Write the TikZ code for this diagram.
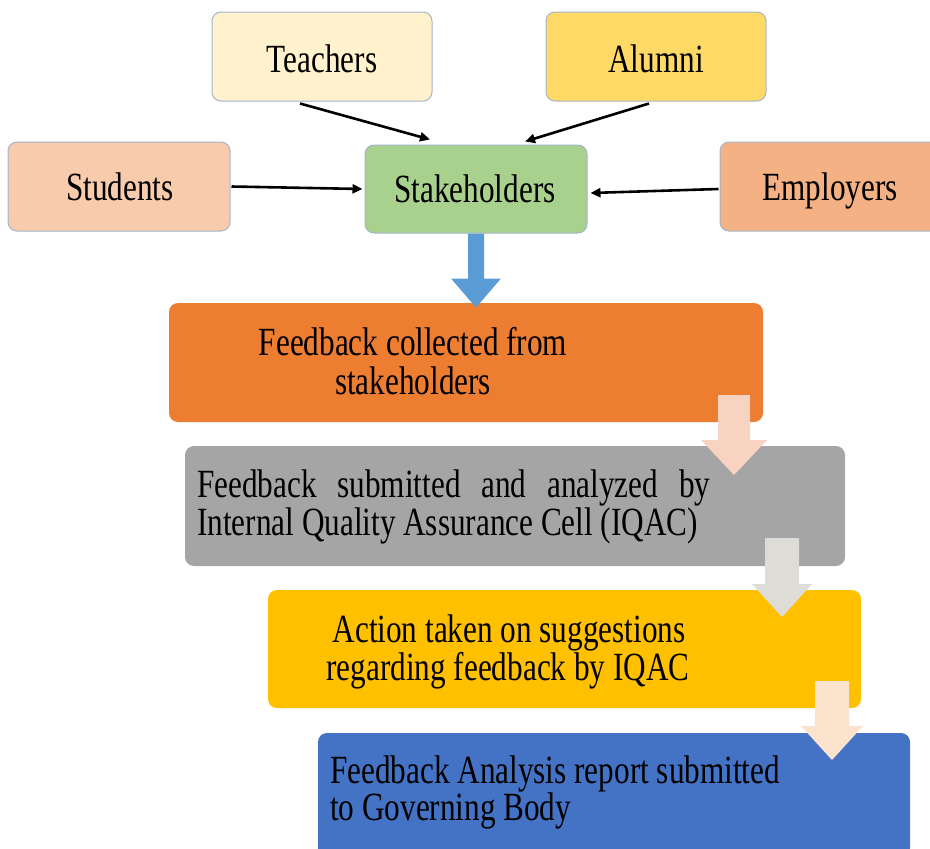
\documentclass[tikz,border=0pt]{standalone}
\usepackage{fontspec}
\setmainfont{Liberation Serif}[FakeStretch=0.78]
\usetikzlibrary{calc,arrows.meta}
\definecolor{cTeach}{HTML}{FFF2CC}
\definecolor{cAlum}{HTML}{FFD966}
\definecolor{cStud}{HTML}{F8CBAD}
\definecolor{cStake}{HTML}{A9D18E}
\definecolor{cEmpl}{HTML}{F4B183}
\definecolor{cEdge}{HTML}{A3B5CB}
\definecolor{cOne}{HTML}{ED7D31}
\definecolor{cTwo}{HTML}{A5A5A5}
\definecolor{cThree}{HTML}{FFC000}
\definecolor{cFour}{HTML}{4472C4}
\definecolor{cBlueArr}{HTML}{5B9BD5}
\definecolor{cArrA}{HTML}{F9D3C1}
\definecolor{cArrB}{HTML}{DEDCD6}
\definecolor{cArrC}{HTML}{FBE3CD}
\tikzset{
  topbox/.style={rectangle, rounded corners=9pt, draw=cEdge, line width=1pt, inner sep=0pt},
  flowbox/.style={rectangle, rounded corners=9pt, inner sep=0pt},
  lbl/.style={inner sep=0pt, font=\fontsize{40}{40}\selectfont},
  conn/.style={-{Triangle[length=10pt,width=9pt]}, line width=2.6pt, black},
}
\begin{document}
\begin{tikzpicture}[x=1pt,y=-1pt]
\useasboundingbox (0,0) rectangle (930,849);
% top boxes
\node[topbox, fill=cTeach, minimum width=220pt, minimum height=89pt] (teach) at (322,56.5) {};
\node[topbox, fill=cAlum, minimum width=220pt, minimum height=89pt] (alum) at (656,56.5) {};
\node[topbox, fill=cStud, minimum width=222pt, minimum height=89pt] (stud) at (119,186.5) {};
\node[topbox, fill=cStake, minimum width=222pt, minimum height=88pt] (stake) at (476,189) {};
\node[topbox, fill=cEmpl, minimum width=222pt, minimum height=89pt] (empl) at (831,186.5) {};
\node[lbl, anchor=base] (teachT) at (322,72) {Teachers};
\node[lbl, anchor=base] (alumT) at (656,72) {Alumni};
\node[lbl, anchor=base] (studT) at (120,200) {Students};
\node[lbl, anchor=base] (stakeT) at (475,202) {Stakeholders};
\node[lbl, anchor=base] (emplT) at (830,200) {Employers};
% black connectors
\draw[conn] ([xshift=-22pt,yshift=-2pt]teach.south) -- ([xshift=-46pt,yshift=5pt]stake.north);
\draw[conn] ([xshift=-7pt,yshift=-2pt]alum.south) -- ([xshift=49pt,yshift=3pt]stake.north);
\draw[conn] ([xshift=1pt]stud.east) -- ([xshift=-2pt]stake.west);
\draw[conn] ([xshift=-1pt,yshift=-2.5pt]empl.west) -- ([xshift=3pt,yshift=-4pt]stake.east);
% flow boxes
\node[flowbox, fill=cOne, minimum width=594pt, minimum height=119pt] (one) at (466,362.5) {};
\node[flowbox, fill=cTwo, minimum width=660pt, minimum height=120pt] (two) at (515,506) {};
\node[flowbox, fill=cThree, minimum width=593pt, minimum height=118pt] (three) at (564.5,649) {};
\node[flowbox, fill=cFour, minimum width=592pt, minimum height=124pt] (four) at (614,795) {};
\node[lbl, anchor=base] (oneA) at (413,355) {Feedback collected from};
\node[lbl, anchor=base] (oneB) at (413,394) {stakeholders};
\node[lbl, anchor=base west] (twoA) at (197,497) {\makebox[513pt][s]{Feedback submitted and analyzed by}};
\node[lbl, anchor=base west] (twoB) at (197,535) {Internal Quality Assurance Cell (IQAC)};
\node[lbl, anchor=base] (threeA) at (509,642) {Action taken on suggestions};
\node[lbl, anchor=base] (threeB) at (508,680) {regarding feedback by IQAC};
\node[lbl, anchor=base west] (fourA) at (330,783) {Feedback Analysis report submitted};
\node[lbl, anchor=base west] (fourB) at (330,820) {to Governing Body};
% blue block arrow
\coordinate (bs) at (stake.south);
\fill[cBlueArr] ($(bs)+(-8,0)$) -- ($(bs)+(8,0)$) -- ($(bs)+(8,45)$) -- ($(bs)+(25,45)$)
  -- ($(bs)+(0,74)$) -- ($(bs)+(-25,45)$) -- ($(bs)+(-8,45)$) -- cycle;
% faded block arrows
\coordinate (aA) at (734,395);
\fill[cArrA] ($(aA)+(-16,0)$) -- ($(aA)+(16,0)$) -- ($(aA)+(16,45)$) -- ($(aA)+(33,45)$)
  -- ($(aA)+(0,80)$) -- ($(aA)+(-33,45)$) -- ($(aA)+(-16,45)$) -- cycle;
\coordinate (aB) at (782,538);
\fill[cArrB] ($(aB)+(-17,0)$) -- ($(aB)+(17,0)$) -- ($(aB)+(17,46)$) -- ($(aB)+(30,46)$)
  -- ($(aB)+(0,79)$) -- ($(aB)+(-30,46)$) -- ($(aB)+(-17,46)$) -- cycle;
\coordinate (aC) at (832,681);
\fill[cArrC] ($(aC)+(-17,0)$) -- ($(aC)+(17,0)$) -- ($(aC)+(17,45)$) -- ($(aC)+(31,45)$)
  -- ($(aC)+(0,79)$) -- ($(aC)+(-31,45)$) -- ($(aC)+(-17,45)$) -- cycle;
\end{tikzpicture}
\end{document}
